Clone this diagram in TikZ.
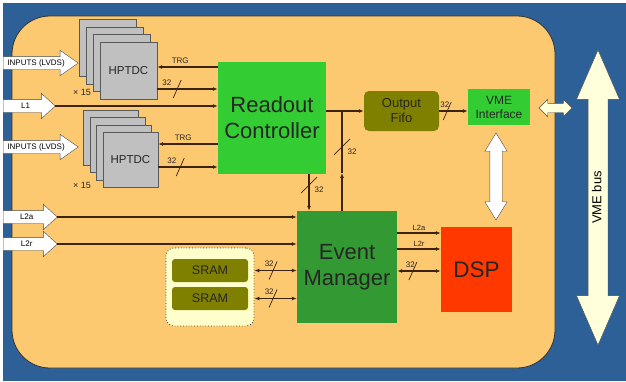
\documentclass[tikz,border=0pt]{standalone}
\usepackage{fontspec}
\setmainfont{Liberation Sans}
\usetikzlibrary{shapes.arrows,arrows.meta}
\definecolor{vmeblue}{RGB}{46,96,152}
\definecolor{boardorange}{RGB}{253,201,112}
\definecolor{brightgreen}{RGB}{51,204,51}
\definecolor{darkgreen}{RGB}{51,153,51}
\definecolor{fifoolive}{RGB}{128,128,0}
\definecolor{dspred}{RGB}{255,56,0}
\definecolor{wirebrown}{RGB}{60,35,20}
\definecolor{cream}{RGB}{255,255,220}
\definecolor{sramyellow}{RGB}{255,255,204}
\definecolor{hpgray}{RGB}{192,192,192}
\begin{document}
\begin{tikzpicture}[x=1pt, y=-1pt, >={Latex[length=5pt,width=4pt]},
  box/.style={inner sep=0pt, align=center, text=black!85},
  hptdc/.style={draw=black!65, fill=hpgray, minimum size=57pt, inner sep=0pt, font=\fontsize{11.5}{13}\selectfont, text=black!85},
  wire/.style={draw=wirebrown, line width=1.1pt},
  num/.style={font=\fontsize{8}{9}\selectfont, inner sep=1pt, text=black!85},
  inarrow/.style={single arrow, draw=black!70, fill=white, anchor=tail, single arrow head extend=6.25pt, inner xsep=1.5pt, inner ysep=2.75pt, text height=5.5pt, text depth=1.5pt, font=\fontsize{8}{9}\selectfont},
  slash/.pic={\draw[-, wirebrown, line width=.7pt] (-4pt,-9pt) -- (4pt,9pt);},
  vslash/.pic={\draw[-, wirebrown, line width=.7pt] (-8pt,-8pt) -- (8pt,8pt);}]
\useasboundingbox (0,0) rectangle (626,381);
\fill[white] (0,0) rectangle (626,381);
\fill[vmeblue] (3,3) rectangle (626,381);
\filldraw[fill=boardorange, draw=black!80, line width=.8pt, rounded corners=38pt] (12,16) rectangle (555,368);
% HPTDC stacks
\node[hptdc] (hpa4) at (107.5,47.5) {};
\node[hptdc] (hpa3) at (114.5,55.2) {};
\node[hptdc] (hpa2) at (121.5,62.8) {};
\node[hptdc] (hpa) at (128.5,70.5) {HPTDC};
\node[num, font=\fontsize{9}{10}\selectfont] (xa) at (82,92) {× 15};
\node[hptdc, minimum size=55pt] (hpb4) at (110.5,137.5) {};
\node[hptdc, minimum size=55pt] (hpb3) at (117.2,144.8) {};
\node[hptdc, minimum size=55pt] (hpb2) at (123.8,152.2) {};
\node[hptdc, minimum size=55pt] (hpb) at (130.5,159.5) {HPTDC};
\node[num, font=\fontsize{9}{10}\selectfont] (xb) at (82,185) {× 15};
% input arrows
\node[inarrow, minimum height=75pt, single arrow tip angle=70] (ina) at (3,63) {INPUTS (LVDS)};
\node[inarrow, minimum height=75pt, single arrow tip angle=70] (inb) at (3,147) {INPUTS (LVDS)};
\node[inarrow, minimum height=52pt, single arrow tip angle=85] (l1) at (3,106) {L1};
\node[inarrow, minimum height=54pt, single arrow tip angle=85] (l2a) at (3,217) {L2a};
\node[inarrow, minimum height=54pt, single arrow tip angle=85] (l2r) at (3,244) {L2r};
% blocks
\node[box, fill=brightgreen, minimum width=108pt, minimum height=112pt, font=\fontsize{22}{26}\selectfont] (rc) at (272,118) {Readout\\Controller};
\node[box, fill=darkgreen, minimum width=100pt, minimum height=112pt, font=\fontsize{22}{26}\selectfont] (em) at (347,267) {Event\\Manager};
\node[box, fill=dspred, minimum width=71pt, minimum height=85pt, font=\fontsize{22.5}{24}\selectfont] (dsp) at (476.5,269.5) {DSP};
\node[box, fill=brightgreen, minimum width=62pt, minimum height=36pt, font=\fontsize{12}{14}\selectfont] (vi) at (499,107) {VME\\Interface};
\node[box, fill=fifoolive, rounded corners=5pt, minimum width=75pt, minimum height=40pt, font=\fontsize{13}{15}\selectfont] (of) at (401.5,111) {Output\\Fifo};
\node[draw=black!80, dotted, thick, fill=sramyellow, rounded corners=8pt, minimum width=88pt, minimum height=78pt] (sram) at (210,287) {};
\node[box, fill=fifoolive, rounded corners=3pt, minimum width=76pt, minimum height=23pt, font=\fontsize{12.5}{13}\selectfont] (sr1) at (210,270.5) {SRAM};
\node[box, fill=fifoolive, rounded corners=3pt, minimum width=76pt, minimum height=23pt, font=\fontsize{12.5}{13}\selectfont] (sr2) at (210,298.5) {SRAM};
% bus arrows
\node[double arrow, rotate=90, draw=black!70, fill=cream, minimum height=295pt, double arrow head extend=11.5pt, double arrow tip angle=47, inner xsep=0pt, inner ysep=3.5pt, text height=9.5pt, text depth=3pt, font=\fontsize{13}{14}\selectfont] (bus) at (598,197.5) {VME bus};
\node[double arrow, draw=black!70, fill=cream, minimum height=33pt, double arrow head extend=4pt, double arrow tip angle=90, inner xsep=0pt, inner ysep=4.5pt] (link) at (555.5,108) {};
\node[double arrow, rotate=90, draw=black!70, fill=white, minimum height=87pt, double arrow head extend=5pt, double arrow tip angle=63, inner xsep=0pt, inner ysep=6pt] (dsplink) at (496,176.5) {};
% wires
\draw[wire,->] (rc.west |- 0,67) -- (hpa.east |- 0,67) node[num, pos=.62, above=2pt] {TRG};
\draw[wire,->] (hpa.east |- 0,89) -- (rc.west |- 0,89) pic[pos=.33]{slash} node[num, pos=.16, above=2pt] {32};
\draw[wire,->] (l1.tip) -- (rc.west |- l1.tip);
\draw[wire,->] (rc.west |- 0,144) -- (hpb.east |- 0,144) node[num, pos=.58, above=2pt] {TRG};
\draw[wire,->] (hpb.east |- 0,167) -- (rc.west |- 0,167) pic[pos=.37]{slash} node[num, pos=.23, above=2pt] {32};
\draw[wire,->] (rc.east |- of.west) -- (of.west);
\coordinate (jn) at (342,111);
\coordinate (up) at (342,173);
\draw[wire,->] (em.north -| jn) -- (up);
\draw[wire] (up) -- (jn) pic[pos=.42]{vslash} node[num, pos=.34, right=4pt] {32};
\draw[wire,->] (rc.south -| 309,0) -- (em.north -| 309,0) pic[pos=.3]{vslash} node[num, pos=.43, right=4pt] {32};
\draw[wire,->] (of.east) -- (vi.west |- of.east) pic[pos=.28]{slash} node[num, pos=.2, above=2pt] {32};
\draw[wire,->] (l2a.tip) -- (em.west |- l2a.tip);
\draw[wire,->] (l2r.tip) -- (em.west |- l2r.tip);
\draw[wire,->] (em.east |- 0,233) -- (dsp.west |- 0,233) node[num, midway, above=1pt, font=\fontsize{7.5}{8}\selectfont] {L2a};
\draw[wire,->] (em.east |- 0,249) -- (dsp.west |- 0,249) node[num, midway, above=1pt, font=\fontsize{7.5}{8}\selectfont] {L2r};
\draw[wire,<->] (em.east |- 0,271) -- (dsp.west |- 0,271) pic[pos=.36]{slash} node[num, pos=.3, above=2pt] {32};
\draw[wire,<->] (sram.east |- sr1) -- (em.west |- sr1) pic[pos=.44]{slash} node[num, pos=.35, above=2pt] {32};
\draw[wire,<->] (sram.east |- sr2) -- (em.west |- sr2) pic[pos=.44]{slash} node[num, pos=.35, above=2pt] {32};
\end{tikzpicture}
\end{document}
